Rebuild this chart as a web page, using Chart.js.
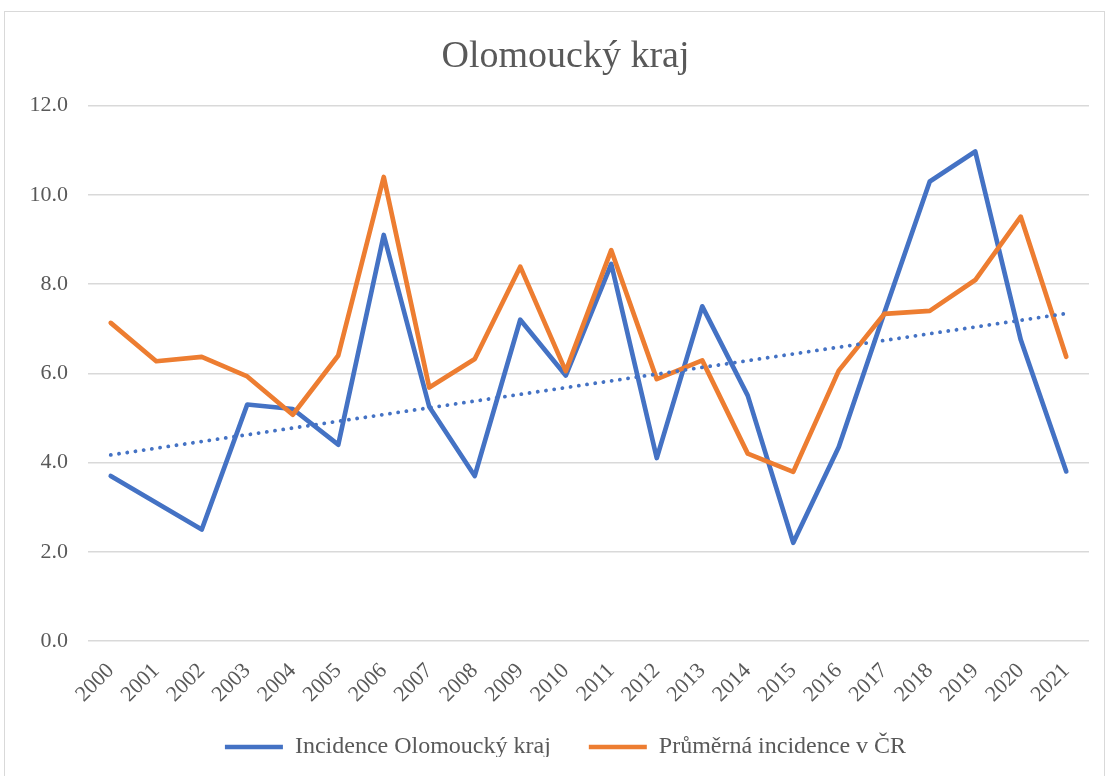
<!DOCTYPE html>
<html lang="cs">
<head>
<meta charset="utf-8">
<script src="https://cdn.jsdelivr.net/npm/chart.js@4.4.1/dist/chart.umd.min.js"></script>
<style>
    html, body { margin: 0; padding: 0; background: #fff; overflow: hidden; }
    #ramecek { position: absolute; left: 4px; top: 11px; width: 1101px; height: 780px; border: 1px solid #d9d9d9; box-sizing: border-box; }
    #obal { position: absolute; left: 0; top: 0; width: 1107px; height: 776px; }
</style>
</head>
<body>
<div id="ramecek"></div>
<div id="obal"><canvas id="grafOlomouc"></canvas></div>
<script>
// roky a hodnoty
const roky = ['2000','2001','2002','2003','2004','2005','2006','2007','2008','2009','2010',
              '2011','2012','2013','2014','2015','2016','2017','2018','2019','2020','2021'];
const incidenceOlomouc = [3.7, 3.1, 2.5, 5.3, 5.2, 4.4, 9.1, 5.25, 3.7, 7.2, 5.95,
                          8.45, 4.1, 7.5, 5.5, 2.2, 4.35, 7.35, 10.3, 10.97, 6.75, 3.8];
const incidenceCR = [7.13, 6.27, 6.37, 5.93, 5.07, 6.4, 10.4, 5.68, 6.32, 8.39, 6.05,
                     8.76, 5.87, 6.29, 4.2, 3.79, 6.06, 7.33, 7.4, 8.09, 9.51, 6.37];
// lineární trend (Excel) – jen krajní body
const trendOlomouc = [4.17, null, null, null, null, null, null, null, null, null, null,
                      null, null, null, null, null, null, null, null, null, null, 7.34];

const MODRA = '#4472C4';
const ORANZOVA = '#ED7D31';
const TEXT = '#595959';
const PISMO = '"Liberation Serif", "Times New Roman", serif';

// vlastní výška legendy (padding legendy slouží jen pro mezeru mezi položkami)
const vyskaLegendy = {
    id: 'vyskaLegendy',
    beforeLayout(chart) {
        const lg = chart.legend;
        if (lg && !lg._upraveno) {
            const puvodni = lg.fit;
            lg.fit = function () { puvodni.call(this); this.height = 60; };
            lg._upraveno = true;
        }
    }
};

// popisky os se nemají ořezávat na rozměr osy
const bezOrezu = s => { s._computeLabelArea = () => null; };

new Chart(document.getElementById('grafOlomouc'), {
    type: 'line',
    data: {
        labels: roky,
        datasets: [
            {
                label: 'Incidence Olomoucký kraj',
                data: incidenceOlomouc,
                borderColor: MODRA,
                backgroundColor: MODRA,
                borderWidth: 4.7,
                borderCapStyle: 'round',
                borderJoinStyle: 'round',
                pointRadius: 0,
                tension: 0,
                order: 2
            },
            {
                label: 'Průměrná incidence v ČR',
                data: incidenceCR,
                borderColor: ORANZOVA,
                backgroundColor: ORANZOVA,
                borderWidth: 4.7,
                borderCapStyle: 'round',
                borderJoinStyle: 'round',
                pointRadius: 0,
                tension: 0,
                order: 1
            },
            {
                label: 'trend',
                data: trendOlomouc,
                borderColor: MODRA,
                borderWidth: 3.8,
                borderDash: [0.1, 8.2],
                borderCapStyle: 'round',
                pointRadius: 0,
                spanGaps: true,
                order: 0
            }
        ]
    },
    options: {
        responsive: true,
        maintainAspectRatio: false,
        animation: false,
        layout: { padding: { left: 42, right: 18, top: 0, bottom: 19 } },
        plugins: {
            title: {
                display: true,
                text: 'Olomoucký kraj',
                color: TEXT,
                font: { family: PISMO, size: 38, weight: 'normal' },
                padding: { top: 34, bottom: 26 }
            },
            legend: {
                position: 'bottom',
                labels: {
                    filter: item => item.text !== 'trend',
                    sort: (a, b) => a.datasetIndex - b.datasetIndex,
                    usePointStyle: true,
                    pointStyleWidth: 58,
                    padding: 38,
                    color: TEXT,
                    font: { family: PISMO, size: 24 }
                }
            },
            tooltip: { enabled: false }
        },
        elements: { point: { pointStyle: 'line' } },
        scales: {
            x: {
                offset: true,
                afterFit: s => { s.height = 56; bezOrezu(s); },
                grid: { display: false },
                border: { display: false },
                ticks: {
                    minRotation: 45,
                    maxRotation: 45,
                    padding: 9,
                    color: TEXT,
                    font: { family: PISMO, size: 22 }
                }
            },
            y: {
                min: 0,
                max: 12,
                afterFit: s => { s.width = 46; bezOrezu(s); },
                grid: { color: '#d9d9d9', lineWidth: 1.5, drawTicks: false },
                border: { display: false },
                ticks: {
                    stepSize: 2,
                    padding: 20,
                    color: TEXT,
                    font: { family: PISMO, size: 22 },
                    callback: v => v.toFixed(1)
                }
            }
        }
    },
    plugins: [vyskaLegendy]
});
</script>
</body>
</html>
